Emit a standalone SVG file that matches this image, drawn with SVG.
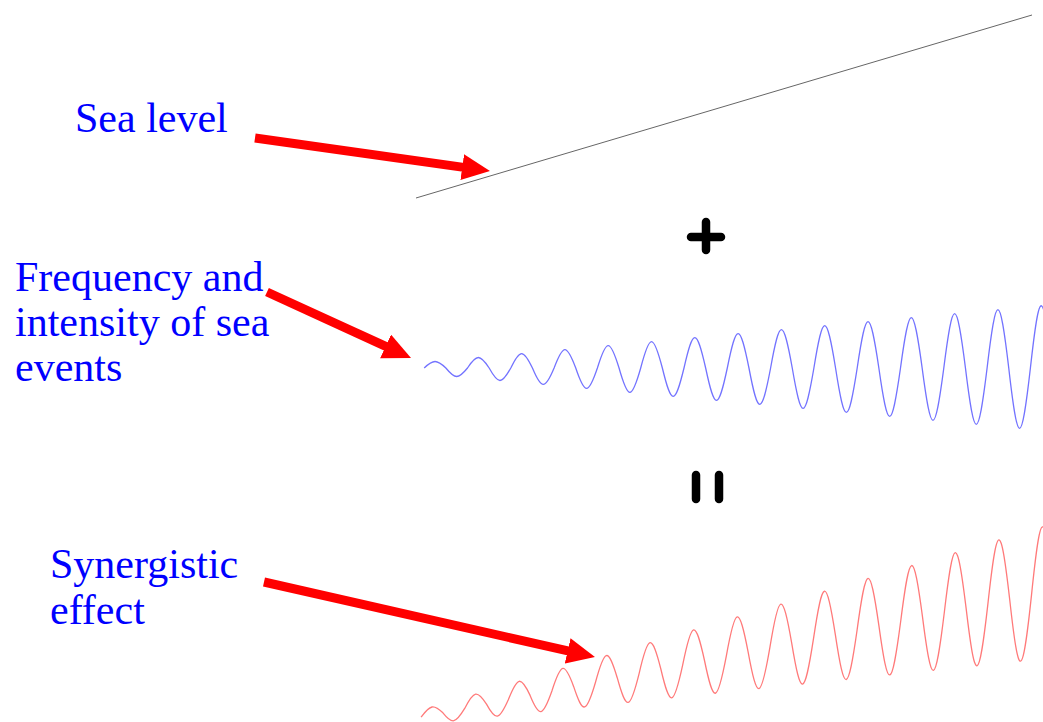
<svg xmlns="http://www.w3.org/2000/svg" width="1043" height="722" viewBox="0 0 1043 722">
<style>
.lbl{font-family:"Liberation Serif","Times New Roman",serif;font-size:42px;fill:#0000ff}
.arrow{stroke:#ff0000;stroke-width:9;fill:none;marker-end:url(#head)}
.sym{stroke:#000;stroke-width:8.5;stroke-linecap:round;fill:none}
.wave{fill:none;stroke-width:1.3}
</style>
<defs>
<marker id="head" markerUnits="userSpaceOnUse" markerWidth="30" markerHeight="28" refX="14" refY="13" orient="auto" viewBox="0 0 30 28">
<path d="M0,0 L28,13 L0,26 Z" fill="#ff0000"/>
</marker>
</defs>
<rect width="1043" height="722" fill="#ffffff"/>

<g id="sea-level-line">
<line x1="416" y1="198" x2="1032" y2="15" stroke="#666666" stroke-width="1"/>
</g>

<g id="label-sea-level"><text class="lbl" x="75" y="132">Sea level</text></g>
<g id="label-frequency">
<text class="lbl" x="15" y="291">Frequency and</text>
<text class="lbl" x="15" y="336">intensity of sea</text>
<text class="lbl" x="15" y="381">events</text>
</g>
<g id="label-synergistic">
<text class="lbl" x="50" y="578">Synergistic</text>
<text class="lbl" x="50" y="624">effect</text>
</g>

<g id="plus-sign">
<line class="sym" x1="691" y1="237" x2="721" y2="237"/>
<line class="sym" x1="706" y1="222" x2="706" y2="250"/>
</g>
<g id="equals-sign">
<line class="sym" x1="696" y1="475" x2="696" y2="499"/>
<line class="sym" x1="719" y1="475" x2="719" y2="499"/>
</g>

<g id="events-wave">
<path class="wave" stroke="#7373ff" d="M424.2,368 C433.39,359.33 436.66,359.33 445.85,368 C455.04,379.33 458.31,379.33 467.5,368 C476.69,354.02 479.96,354.02 489.15,368 C498.34,384.64 501.61,384.64 510.8,368 C519.99,348.71 523.26,348.71 532.45,368 C541.64,389.95 544.91,389.95 554.1,368 C563.29,343.39 566.56,343.39 575.75,368 C584.94,395.26 588.21,395.26 597.4,368 C606.59,338.08 609.86,338.08 619.05,368 C628.24,400.57 631.51,400.57 640.7,368 C649.89,332.77 653.16,332.77 662.35,368 C671.54,405.88 674.81,405.88 684,368 C693.19,327.46 696.46,327.46 705.65,368 C714.84,411.2 718.11,411.2 727.3,368 C736.49,322.15 739.76,322.15 748.95,368 C758.14,416.51 761.41,416.51 770.6,368 C779.79,316.84 783.06,316.84 792.25,368 C801.44,421.82 804.71,421.82 813.9,368 C823.09,311.53 826.36,311.53 835.55,368 C844.74,427.13 848.01,427.13 857.2,368 C866.39,306.21 869.66,306.21 878.85,368 C888.04,432.44 891.31,432.44 900.5,368 C909.69,300.9 912.96,300.9 922.15,368 C931.34,437.75 934.61,437.75 943.8,368 C952.99,295.59 956.26,295.59 965.45,368 C974.64,443.07 977.91,443.07 987.1,368 C996.29,290.28 999.56,290.28 1008.75,368 C1017.94,448.38 1021.21,448.38 1030.4,368 C1039.59,284.97 1042.86,284.97 1052.05,368"/>
</g>

<g id="synergy-wave">
<path class="wave" stroke="#ff7a7a" d="M421.1,717.18 C430.35,704.66 433.65,704 442.9,712.82 C452.15,724.4 455.45,723.74 464.7,708.46 C473.95,690.42 477.25,689.76 486.5,704.1 C495.75,721.2 499.05,720.54 508.3,699.74 C517.55,676.18 520.85,675.52 530.1,695.38 C539.35,718 542.65,717.34 551.9,691.02 C561.15,661.93 564.45,661.27 573.7,686.66 C582.95,714.81 586.25,714.15 595.5,682.3 C604.75,647.69 608.05,647.03 617.3,677.94 C626.55,711.61 629.85,710.95 639.1,673.58 C648.35,633.45 651.65,632.79 660.9,669.22 C670.15,708.41 673.45,707.75 682.7,664.86 C691.95,619.21 695.25,618.55 704.5,660.5 C713.75,705.22 717.05,704.56 726.3,656.14 C735.55,604.96 738.85,604.3 748.1,651.78 C757.35,702.02 760.65,701.36 769.9,647.42 C779.15,590.72 782.45,590.06 791.7,643.06 C800.95,698.82 804.25,698.16 813.5,638.7 C822.75,576.48 826.05,575.82 835.3,634.34 C844.55,695.62 847.85,694.96 857.1,629.98 C866.35,562.23 869.65,561.57 878.9,625.62 C888.15,692.43 891.45,691.77 900.7,621.26 C909.95,547.99 913.25,547.33 922.5,616.9 C931.75,689.23 935.05,688.57 944.3,612.54 C953.55,533.75 956.85,533.09 966.1,608.18 C975.35,686.03 978.65,685.37 987.9,603.82 C997.15,519.51 1000.45,518.85 1009.7,599.46 C1018.95,682.84 1022.25,682.18 1031.5,595.1 C1040.75,505.26 1044.05,504.6 1053.3,590.74"/>
</g>

<g id="connectors">
<line class="arrow" x1="255" y1="138" x2="476.1" y2="169.1"/>
<line class="arrow" x1="267" y1="292" x2="398.3" y2="352.2"/>
<line class="arrow" x1="264" y1="582" x2="581.3" y2="653.9"/>
</g>
</svg>
